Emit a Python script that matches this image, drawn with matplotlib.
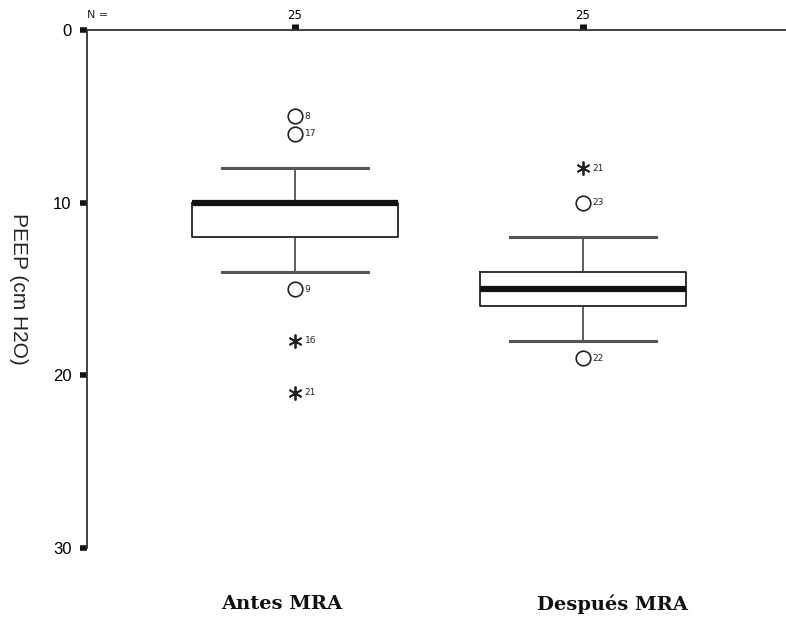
import matplotlib.pyplot as plt

# grupos y resumen de cada caja
grupos = ['Antes MRA', 'Después MRA']
n_casos = ['25', '25']
mediana = [10, 15]
q1 = [10, 14]
q3 = [12, 16]
bigote_bajo = [8, 12]
bigote_alto = [14, 18]

# valores atipicos: (grupo, valor, etiqueta)
atipicos_circ = [(0, 5, '8'), (0, 6, '17'), (0, 15, '9'), (1, 10, '23'), (1, 19, '22')]
atipicos_extr = [(0, 18, '16'), (0, 21, '21'), (1, 8, '21')]

fig = plt.figure(figsize=(7.86, 6.21), dpi=100)
ax = fig.add_axes([87 / 786, 1 - 548 / 621, 1 - 87 / 786, (548 - 30) / 621])

stats = []
for i in range(len(grupos)):
    stats.append(dict(med=mediana[i], q1=q1[i], q3=q3[i],
                      whislo=bigote_bajo[i], whishi=bigote_alto[i], fliers=[]))

pos = [1, 2]
ax.bxp(stats, positions=pos, widths=0.715, showfliers=False,
       boxprops=dict(color='#222222', linewidth=1.3),
       medianprops=dict(color='#111111', linewidth=4.5),
       whiskerprops=dict(color='#333333', linewidth=1.1),
       capprops=dict(color='#555555', linewidth=2.2),
       capwidths=0.507)

for g, v, lab in atipicos_circ:
    ax.plot(pos[g], v, marker='o', ms=10.5, mfc='white', mec='#222222', mew=1.2,
            linestyle='none', zorder=3)
    ax.annotate(lab, (pos[g], v), xytext=(7, 0), textcoords='offset points',
                va='center', ha='left', fontsize=6.5, color='#222222')
for g, v, lab in atipicos_extr:
    ax.plot(pos[g], v, marker=(6, 2, 0), ms=10, mec='#222222', mew=1.3,
            linestyle='none', zorder=3)
    ax.annotate(lab, (pos[g], v), xytext=(7, 0), textcoords='offset points',
                va='center', ha='left', fontsize=6.5, color='#222222')

ax.set_xlim(0.278, 2.705)
ax.set_ylim(30, 0)

for s in ['bottom', 'right']:
    ax.spines[s].set_visible(False)
for s in ['left', 'top']:
    ax.spines[s].set_color('#333333')
    ax.spines[s].set_linewidth(1.3)

ax.set_yticks([0, 10, 20, 30])
ax.set_yticklabels(['0', '10', '20', '30'], family='Liberation Sans', fontsize=12)
ax.tick_params(axis='y', direction='out', length=5, width=4, color='#111111', pad=6)

ax.xaxis.tick_top()
ax.set_xticks(pos)
ax.set_xticklabels(n_casos, fontsize=8.5, family='DejaVu Sans')
ax.tick_params(axis='x', direction='out', length=4, width=5, color='#111111', pad=2)
ax.text(0.278, -0.6, 'N =', fontsize=8, ha='left', va='bottom', color='#222222')

ax.set_ylabel('PEEP (cm H2O)', rotation=270, fontsize=15, family='Liberation Sans',
              color='#222222', va='center')
ax.yaxis.set_label_coords(-0.098, 0.50)

fig.text(282 / 786, 1 - 604 / 621, grupos[0], ha='center', va='center',
         fontsize=14, fontweight='bold', family='DejaVu Serif', color='#111111')
fig.text(612 / 786, 1 - 604 / 621, grupos[1], ha='center', va='center',
         fontsize=14, fontweight='bold', family='DejaVu Serif', color='#111111')

fig.savefig('out.png', dpi=100)
